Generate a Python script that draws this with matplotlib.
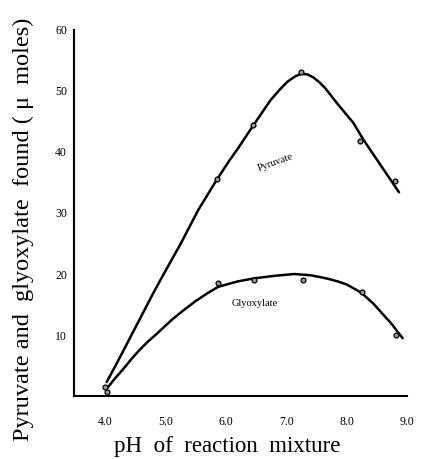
import matplotlib.pyplot as plt

plt.rcParams['font.family'] = ['Liberation Serif', 'DejaVu Serif']

# measured points
pyr_ph = [4.0, 5.85, 6.45, 7.25, 8.22, 8.8]
pyr_val = [1.5, 35.6, 44.4, 53.1, 41.8, 35.3]
gly_ph = [4.02, 5.87, 6.46, 7.28, 8.26, 8.82]
gly_val = [0.6, 18.6, 19.0, 19.1, 17.0, 10.0]

# hand drawn curves
pyr_curve_ph = [4.02, 4.2, 4.4, 4.6, 4.8, 5.0, 5.25, 5.54, 5.85, 6.05, 6.2, 6.47,
                6.74, 6.9, 7.02, 7.15, 7.25, 7.35, 7.45, 7.55, 7.65, 7.84, 8.0,
                8.11, 8.28, 8.54, 8.87]
pyr_curve_val = [2.3, 5.6, 9.4, 13.2, 17.0, 20.6, 25.0, 30.5, 35.5, 38.5, 40.6, 44.6,
                 48.5, 50.3, 51.5, 52.4, 52.8, 52.7, 52.2, 51.4, 50.4, 48.0, 46.1,
                 44.8, 42.0, 38.2, 33.4]
gly_curve_ph = [4.02, 4.15, 4.3, 4.45, 4.56, 4.7, 4.85, 5.1, 5.3, 5.5, 5.7, 5.87,
                6.05, 6.2, 6.47, 6.8, 7.13, 7.4, 7.56, 7.7, 7.85, 8.0, 8.11, 8.25,
                8.35, 8.45, 8.54, 8.65, 8.75, 8.85, 8.93]
gly_curve_val = [1.2, 2.8, 4.5, 6.3, 7.5, 8.9, 10.2, 12.5, 14.1, 15.6, 16.9, 17.9,
                 18.4, 18.8, 19.3, 19.7, 20.0, 19.8, 19.5, 19.2, 18.8, 18.3, 17.7, 16.9,
                 16.0, 15.1, 14.1, 12.9, 11.8, 10.5, 9.5]

xticks = [4.0, 5.0, 6.0, 7.0, 8.0, 9.0]
yticks = [10, 20, 30, 40, 50, 60]

fig = plt.figure(figsize=(4.26, 4.59), dpi=100)
ax = fig.add_axes([0.174, 0.137, 0.781, 0.798])

ax.plot(pyr_curve_ph, pyr_curve_val, color='black', lw=1.8,
        solid_capstyle='round', solid_joinstyle='round')
ax.plot(gly_curve_ph, gly_curve_val, color='black', lw=1.8,
        solid_capstyle='round', solid_joinstyle='round')
ax.plot(pyr_ph, pyr_val, 'o', ms=3.5, mfc='#999999', mec='black', mew=0.9)
ax.plot(gly_ph, gly_val, 'o', ms=3.5, mfc='#999999', mec='black', mew=0.9)

ax.text(6.82, 38.2, 'Pyruvate', fontsize=7.5, rotation=20, ha='center', va='center')
ax.text(6.48, 15.2, 'Glyoxylate', fontsize=7.5, ha='center', va='center')

ax.set_xlim(3.48, 8.93)
ax.set_ylim(0, 60)
ax.set_xticks(xticks)
ax.set_xticklabels(['%.1f' % t for t in xticks])
ax.set_yticks(yticks)
ax.tick_params(length=0, labelsize=8.5)
ax.tick_params(axis='x', pad=14)
ax.tick_params(axis='y', pad=5)
for s in ['top', 'right']:
    ax.spines[s].set_visible(False)
ax.spines['left'].set_linewidth(1.5)
ax.spines['bottom'].set_linewidth(1.5)

ax.set_xlabel('pH  of  reaction  mixture', fontsize=16.5)
ax.set_ylabel('Pyruvate and  glyoxylate  found ( \u03bc  moles)', fontsize=17.5)
ax.xaxis.set_label_coords(0.46, -0.11)
ax.yaxis.set_label_coords(-0.12, 0.455)

fig.savefig('out.png', dpi=100)
